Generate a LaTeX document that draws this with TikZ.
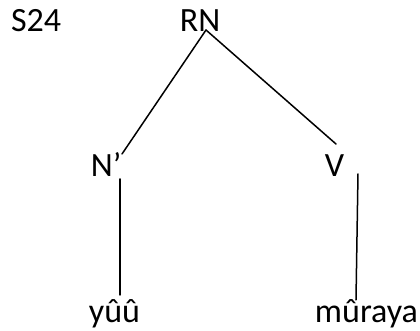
\documentclass[tikz,border=0pt]{standalone}
\usepackage{fontspec}
\setmainfont{Carlito}
\usepackage{tikz}
\tikzset{
	x=0.5pt, y=-0.5pt, % one unit is one pixel of the reference, y runs downwards
	word/.style={inner sep=0pt, outer sep=0pt, anchor=base west, font=\fontsize{17}{20}\selectfont}, % sets the properties for each label
	branch/.style={line width=0.75pt, line cap=round}, % the lines of the tree
}

\begin{document}
\begin{tikzpicture}
	\useasboundingbox (0,0) rectangle (420,331);
			\node[word] (s24) at (11,32) {S24};
			\node[word] (rn) at (180,32) {RN};
			\node[word] (nbar) at (91,177) {N’};
			\node[word] (v) at (325,177) {V};
			\node[word] (yuu) at (89,323) {yûû};
			\node[word] (muraya) at (315,323) {mûraya};
	\draw[branch] ([shift={(26,-2)}]rn.base west) -- ([shift={(31,-23)}]nbar.base west);
	\draw[branch] ([shift={(26,-2)}]rn.base west) -- ([shift={(11,-33)}]v.base west);
	\draw[branch] ([shift={(29,2)}]nbar.base west) -- ([shift={(31,-28)}]yuu.base west);
	\draw[branch] ([shift={(33,-3)}]v.base west) -- ([shift={(41,-23)}]muraya.base west);
\end{tikzpicture}
\end{document}
